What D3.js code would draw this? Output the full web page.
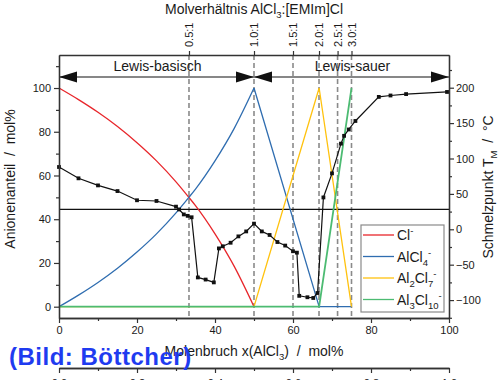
<!DOCTYPE html>
<html><head><meta charset="utf-8">
<script src="https://cdn.jsdelivr.net/npm/d3@7"></script>
<style>
body{margin:0;background:#fff;}
svg{display:block;}
text{font-family:"Liberation Sans",Arial,sans-serif;fill:#1a1a1a;}
</style>
</head><body>
<svg id="c" width="500" height="380"></svg>
<script>
// ---------- data ----------
const xMajor=[0,20,40,60,80,100];
const xMinor=[10,30,50,70,90];
const yLeftMajor=[0,20,40,60,80,100];
const yLeftMinor=[10,30,50,70,90,110];
const yRightMajor=[-100,-50,0,50,100,150,200];
const yRightMinor=[-125,-75,-25,25,75,125,175,225];
const ratioPos=[33.33,50,60,66.67,71.43,75];
const ratioLabels=["0.5:1","1.0:1","1.5:1","2.0:1","2.5:1","3.0:1"];

// Cl- (smooth, 0..50)
const clX=[0,5,10,15,20,25,30,33.3,35,40,45,50];
const clY=[100,94.7,88.9,82.4,75,66.7,57.1,50,46.2,33.3,18.2,0];
// AlCl4- rising part (smooth) and falling part (straight)
const alcl4RiseX=[0,5,10,15,20,25,30,33.3,35,40,45,50];
const alcl4RiseY=[0,5.3,11.1,17.6,25,33.3,42.9,50,53.8,66.7,81.8,100];
const alcl4FallX=[50,66.7,75];
const alcl4FallY=[100,0,0];
// Al2Cl7-
const al2X=[0,50,66.7,75];
const al2Y=[0,0,100,0];
// Al3Cl10-
const al3X=[0,66.7,75];
const al3Y=[0,0,100];
// melting point (right axis, °C)
const mpX=[0,5,10,15,20,25,30,30.8,32,33,34,35.6,37.6,39.7,41,42,44,46,48,50,52,54,56,58,60,61,61.6,63.7,65.2,66.3,67.8,70,72.3,73.1,74.3,76,82,85,89,99.5];
const mpT=[88,72,62,54,41,40,32,28,21,19,17,-68,-71,-75,-27,-24,-19,-10,-3,8,-3,-8,-18,-23,-31,-33,-94,-96,-97,-90,45,79,121,132,141,153,187,189,191,194];
const roomT=28;

const legendNames=[
  [["Cl",""],["-","sup"]],
  [["AlCl",""],["4","sub"],["-","sup"]],
  [["Al",""],["2","sub"],["Cl",""],["7","sub"],["-","sup"]],
  [["Al",""],["3","sub"],["Cl",""],["10","sub"],["-","sup"]]
];
const colors=["#e8262b","#2f6db0","#ffc20e","#4cbb72"];
const bottom2Major=[0,0.2,0.4,0.6,0.8,1.0];
const bottom2Minor=[0.1,0.3,0.5,0.7,0.9];

// ---------- scales ----------
const L=59,R=449,T=55,B=318;
const x=d3.scaleLinear().domain([0,100]).range([L,R]);
const yL=d3.scaleLinear().domain([-5.17,115.1]).range([B,T]);
const yR=d3.scaleLinear().domain([-125.3,246.2]).range([B,T]);
const x2=d3.scaleLinear().domain([0,1]).range([L,R]);

const svg=d3.select("#c");
const AX="#333";

function rich(t,parts,fs){
  let cur=0;
  parts.forEach(([s,k])=>{
    const target=k==="sub"?fs*0.32:k==="sup"?-fs*0.42:0;
    t.append("tspan").attr("dy",target-cur).attr("font-size",k?fs*0.68:fs)
     .style("white-space","pre").text(s);
    cur=target;
  });
}

// dashed verticals
svg.append("g").selectAll("line").data(ratioPos).join("line")
  .attr("x1",d=>x(d)).attr("x2",d=>x(d)).attr("y1",T).attr("y2",B)
  .attr("stroke","#8a8a8a").attr("stroke-width",1.6).attr("stroke-dasharray","5,3");

// horizontal room temperature line
svg.append("line").attr("x1",L).attr("x2",R).attr("y1",yR(roomT)).attr("y2",yR(roomT))
  .attr("stroke","#111").attr("stroke-width",1.2);

// species lines
const smooth=d3.line().x(d=>x(d[0])).y(d=>yL(d[1])).curve(d3.curveMonotoneX);
const lin=d3.line().x(d=>x(d[0])).y(d=>yL(d[1]));
const zip=(a,b)=>a.map((v,i)=>[v,b[i]]);
const g=svg.append("g").attr("fill","none").attr("stroke-width",1.3);
g.append("path").attr("d",smooth(zip(clX,clY))).attr("stroke",colors[0]);
g.append("path").attr("d",smooth(zip(alcl4RiseX,alcl4RiseY))).attr("stroke",colors[1]);
g.append("path").attr("d",lin(zip(alcl4FallX,alcl4FallY))).attr("stroke",colors[1]);
g.append("path").attr("d",lin(zip(al2X,al2Y))).attr("stroke",colors[2]);
g.append("path").attr("d",lin(zip(al3X,al3Y))).attr("stroke",colors[3]).attr("stroke-width",1.8);

// melting point
const mp=zip(mpX,mpT);
svg.append("path").attr("d",d3.line().x(d=>x(d[0])).y(d=>yR(d[1]))(mp))
  .attr("fill","none").attr("stroke","#111").attr("stroke-width",1.2);
svg.append("g").selectAll("rect").data(mp).join("rect")
  .attr("x",d=>x(d[0])-1.9).attr("y",d=>yR(d[1])-1.9).attr("width",3.8).attr("height",3.8).attr("fill","#111");

// arrows
const ay=77;
svg.append("line").attr("x1",x(0)).attr("x2",x(100)).attr("y1",ay).attr("y2",ay).attr("stroke","#111").attr("stroke-width",1.2);
function head(tip,dir){
  const bx=tip+dir*(-18);
  svg.append("path").attr("d",`M${tip},${ay}L${bx},${ay-5.5}L${bx},${ay+5.5}Z`).attr("fill","#111");
}
head(x(0),-1); head(x(50),1); head(x(50),-1); head(x(100),1);
svg.append("text").attr("x",x(25)+1).attr("y",71).attr("text-anchor","middle").attr("font-size",14).text("Lewis-basisch");
svg.append("text").attr("x",x(75)+1).attr("y",71).attr("text-anchor","middle").attr("font-size",14).text("Lewis-sauer");

// axes
function styleAxis(sel){
  sel.selectAll("path.domain").attr("stroke",AX).attr("stroke-width",1.3);
  sel.selectAll(".tick line").attr("stroke",AX).attr("stroke-width",1.2);
  sel.selectAll(".tick text").attr("font-size",11).attr("fill","#1a1a1a").attr("font-family","Liberation Sans, Arial, sans-serif");
}
styleAxis(svg.append("g").attr("transform",`translate(0,${B})`).call(d3.axisBottom(x).tickValues(xMajor).tickSize(5).tickSizeOuter(0).tickPadding(3)));
styleAxis(svg.append("g").attr("transform",`translate(0,${B})`).call(d3.axisBottom(x).tickValues(xMinor).tickSize(3).tickSizeOuter(0).tickFormat("")));
styleAxis(svg.append("g").attr("transform",`translate(0,${T})`).call(d3.axisTop(x).tickValues(ratioPos).tickSize(4).tickSizeOuter(0).tickFormat("")));
styleAxis(svg.append("g").attr("transform",`translate(${L},0)`).call(d3.axisLeft(yL).tickValues(yLeftMajor).tickSize(5).tickSizeOuter(0).tickPadding(3)));
styleAxis(svg.append("g").attr("transform",`translate(${L},0)`).call(d3.axisLeft(yL).tickValues(yLeftMinor).tickSize(3).tickSizeOuter(0).tickFormat("")));
styleAxis(svg.append("g").attr("transform",`translate(${R},0)`).call(d3.axisRight(yR).tickValues(yRightMajor).tickSize(5).tickSizeOuter(0).tickPadding(2)));
styleAxis(svg.append("g").attr("transform",`translate(${R},0)`).call(d3.axisRight(yR).tickValues(yRightMinor).tickSize(3).tickSizeOuter(0).tickFormat("")));

// ratio labels (top)
svg.append("g").selectAll("text").data(ratioPos).join("text")
  .attr("transform",d=>`translate(${x(d)+4},47) rotate(-90)`)
  .attr("text-anchor","start").attr("font-size",11).text((d,i)=>ratioLabels[i]);

// title
rich(svg.append("text").attr("x",254).attr("y",14).attr("text-anchor","middle").attr("font-size",14),
  [["Molverhältnis AlCl",""],["3","sub"],[":[EMIm]Cl",""]],14);

// axis titles
rich(svg.append("text").attr("transform","translate(15,179) rotate(-90)").attr("text-anchor","middle").attr("font-size",14).style("white-space","pre"),
  [["Anionenanteil  /  mol%",""]],14);
rich(svg.append("text").attr("transform","translate(493,187) rotate(-90)").attr("text-anchor","middle").attr("font-size",14).style("white-space","pre"),
  [["Schmelzpunkt T",""],["M","sub"],["  /  °C",""]],14);
rich(svg.append("text").attr("x",254).attr("y",356).attr("text-anchor","middle").attr("font-size",14).style("white-space","pre"),
  [["Molenbruch x(AlCl",""],["3","sub"],[")  /  mol%",""]],14);

// legend
const lg=svg.append("g");
lg.append("rect").attr("x",361).attr("y",225).attr("width",83).attr("height",87)
  .attr("fill","#fff").attr("stroke","#8a8a8a").attr("stroke-width",1.2);
const ly=[235,256.5,278,299.5];
legendNames.forEach((p,i)=>{
  lg.append("line").attr("x1",363).attr("x2",394).attr("y1",ly[i]).attr("y2",ly[i]).attr("stroke",colors[i]).attr("stroke-width",1.3);
  rich(lg.append("text").attr("x",397).attr("y",ly[i]+5).attr("font-size",14),p,14);
});

// second (cut-off) bottom axis
styleAxis(svg.append("g").attr("transform","translate(0,368)").call(d3.axisBottom(x2).tickValues(bottom2Major).tickSize(5).tickSizeOuter(0).tickPadding(6).tickFormat(d3.format(".1f"))));
styleAxis(svg.append("g").attr("transform","translate(0,368)").call(d3.axisBottom(x2).tickValues(bottom2Minor).tickSize(3).tickSizeOuter(0).tickFormat("")));

// credit overlay
svg.append("text").attr("x",9).attr("y",365).attr("font-size",24).attr("font-weight","bold")
  .attr("letter-spacing",0.5)
  .attr("font-family","'Noto Sans','Open Sans',sans-serif").style("fill","#1f3bf0").text("(Bild: Böttcher)");
</script>
</body></html>
